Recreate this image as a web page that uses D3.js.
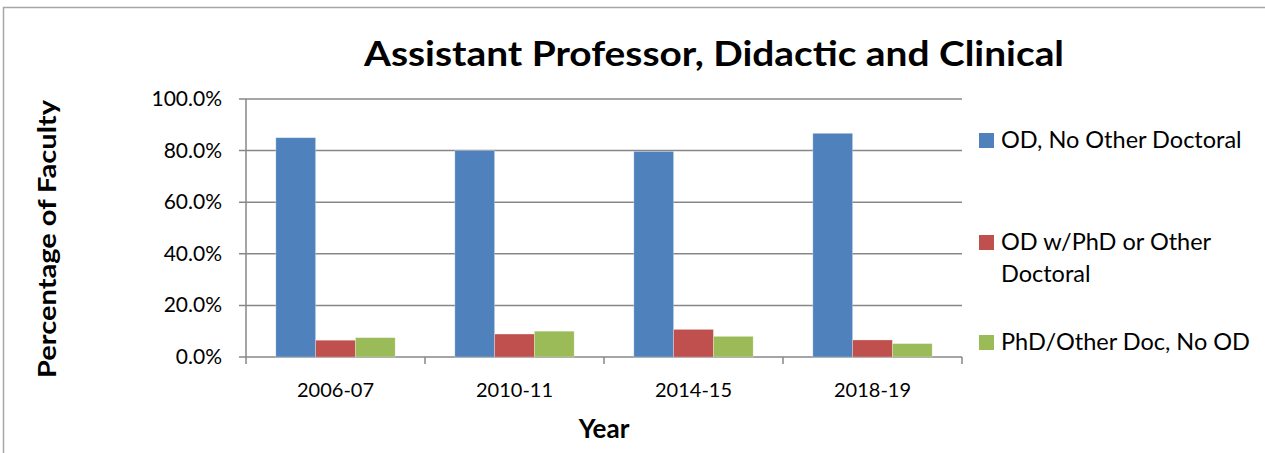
<!DOCTYPE html>
<html>
<head>
<meta charset="utf-8">
<script src="https://cdn.jsdelivr.net/npm/d3@7"></script>
<style>
  body { margin: 0; background: #fff; }
  text { font-family: Lato, "Open Sans", sans-serif; fill: #000; }
</style>
</head>
<body>
<script>
var years = ["2006-07", "2010-11", "2014-15", "2018-19"];
var seriesNames = ["OD, No Other Doctoral", "OD w/PhD or Other Doctoral", "PhD/Other Doc, No OD"];
var odOnly = [85.0, 80.0, 79.7, 86.7];
var odPhd = [6.5, 8.9, 10.7, 6.6];
var phdOnly = [7.5, 10.0, 8.0, 5.2];
var yTicks = [0, 20, 40, 60, 80, 100];
var colors = ["#4f81bd", "#c0504d", "#9bbb59"];

var series = [odOnly, odPhd, phdOnly];

var W = 1265, H = 453;
var pLeft = 246, pRight = 962, pTop = 99, pBottom = 357;

var svg = d3.select("body").append("svg")
    .attr("width", W)
    .attr("height", H);

// chart frame
svg.append("rect")
    .attr("x", 3.5).attr("y", 7.5)
    .attr("width", W + 10).attr("height", H + 10)
    .attr("fill", "none").attr("stroke", "#a6a6a6").attr("stroke-width", 1.5);

var x0 = d3.scaleBand().domain(years).range([pLeft, pRight]);
var x1 = d3.scaleBand().domain(d3.range(series.length))
    .range([0, x0.bandwidth()]).paddingOuter(0.75).paddingInner(0);
var y = d3.scaleLinear().domain([0, 100]).range([pBottom, pTop]);

// gridlines
svg.append("g").selectAll("line")
  .data(yTicks).join("line")
    .attr("x1", pLeft - 7).attr("x2", pRight)
    .attr("y1", d => y(d)).attr("y2", d => y(d))
    .attr("stroke", "#878787").attr("stroke-width", 1.5);

// y axis line
svg.append("line")
    .attr("x1", pLeft).attr("x2", pLeft)
    .attr("y1", pTop).attr("y2", pBottom)
    .attr("stroke", "#878787").attr("stroke-width", 1.5);

// x ticks at category boundaries
var bounds = years.map(d => x0(d)).concat([pRight]);
svg.append("g").selectAll("line")
  .data(bounds).join("line")
    .attr("x1", d => d).attr("x2", d => d)
    .attr("y1", pBottom).attr("y2", pBottom + 7)
    .attr("stroke", "#878787").attr("stroke-width", 1.5);

// y tick labels
svg.append("g").selectAll("text")
  .data(yTicks).join("text")
    .attr("x", 222).attr("y", d => y(d) + 7)
    .attr("text-anchor", "end")
    .attr("font-size", 21)
    .text(d => d3.format(".1f")(d) + "%");

// bars
years.forEach(function(yr, i) {
  svg.append("g")
      .attr("transform", "translate(" + x0(yr) + ",0)")
    .selectAll("rect")
    .data(series.map((s, k) => ({k: k, v: s[i]})))
    .join("rect")
      .attr("x", d => x1(d.k))
      .attr("width", x1.bandwidth())
      .attr("y", d => y(d.v))
      .attr("height", d => pBottom - y(d.v))
      .attr("fill", d => colors[d.k])
      .attr("stroke", "#fff").attr("stroke-opacity", 0.35).attr("stroke-width", 0.8);
});

// x labels
svg.append("g").selectAll("text")
  .data(years).join("text")
    .attr("x", d => x0(d) + x0.bandwidth() / 2)
    .attr("y", 397)
    .attr("text-anchor", "middle")
    .attr("font-size", 20)
    .text(d => d);

// title
svg.append("text")
    .attr("x", 714).attr("y", 66)
    .attr("text-anchor", "middle")
    .attr("font-size", 34).attr("font-weight", "bold")
    .attr("textLength", 700).attr("lengthAdjust", "spacingAndGlyphs")
    .text("Assistant Professor, Didactic and Clinical");

// axis titles
svg.append("text")
    .attr("x", 604).attr("y", 438)
    .attr("text-anchor", "middle")
    .attr("font-size", 26).attr("font-weight", "bold")
    .text("Year");

svg.append("text")
    .attr("transform", "translate(56,239) rotate(-90)")
    .attr("text-anchor", "middle")
    .attr("font-size", 24).attr("font-weight", "bold")
    .attr("textLength", 278).attr("lengthAdjust", "spacingAndGlyphs")
    .text("Percentage of Faculty");

// legend
var legendRows = [
  {k: 0, lines: ["OD, No Other Doctoral"], y: 140},
  {k: 1, lines: ["OD w/PhD or Other", "Doctoral"], y: 242},
  {k: 2, lines: ["PhD/Other Doc, No OD"], y: 342}
];
var lg = svg.append("g");
legendRows.forEach(function(r) {
  lg.append("rect")
      .attr("x", 979).attr("y", r.y - 7)
      .attr("width", 15).attr("height", 15)
      .attr("fill", colors[r.k]);
  var t = lg.append("text")
      .attr("x", 1001).attr("y", r.y + 8)
      .attr("font-size", 23.5);
  r.lines.forEach(function(line, j) {
    t.append("tspan").attr("x", 1001).attr("dy", j ? 32 : 0).text(line);
  });
});
</script>
</body>
</html>
